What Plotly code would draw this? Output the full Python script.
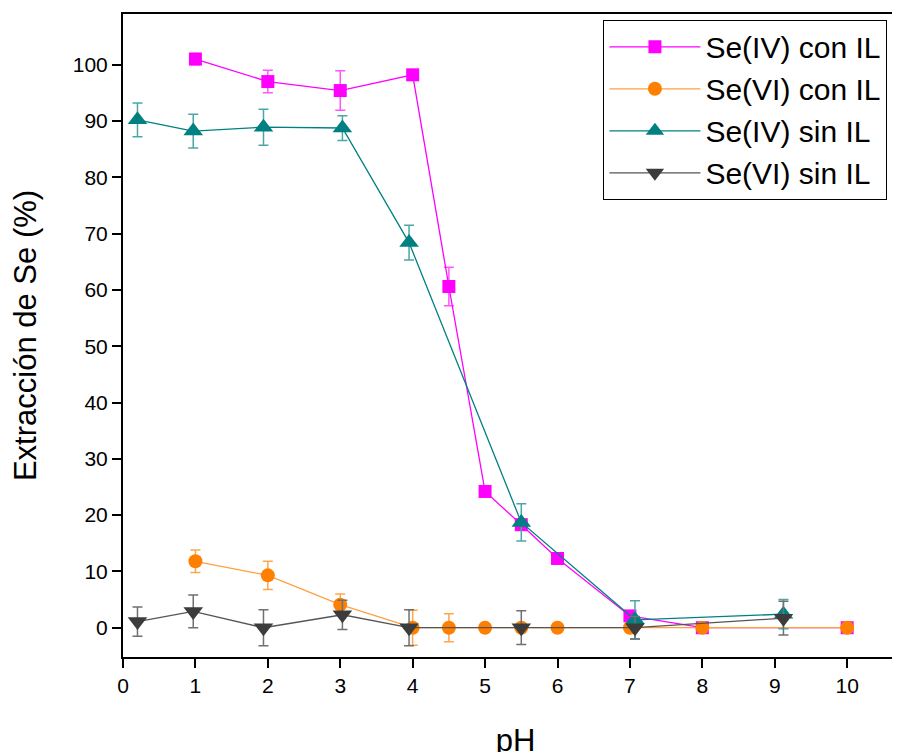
import plotly.graph_objects as go

# pH values
ph_con = [1, 2, 3, 4, 4.5, 5, 5.5, 6, 7, 8, 10]
ph_sin = [0.2, 0.97, 1.94, 3.03, 3.95, 5.5, 7.07, 9.12]

# Series values (%)
se4_con = [101.0, 97.0, 95.4, 98.2, 60.6, 24.2, 18.3, 12.3, 2.1, 0.0, 0.0]
se4_con_err = [1.0, 2.0, 3.5, 0.0, 3.4, 0.0, 0.0, 0.0, 0.0, 0.0, 0.0]
se6_con = [11.8, 9.3, 4.1, 0.0, 0.0, 0.0, 0.0, 0.0, 0.0, 0.0, 0.0]
se6_con_err = [2.0, 2.5, 1.9, 3.1, 2.5, 0.0, 0.0, 0.0, 0.0, 0.0, 0.0]
se4_sin = [90.2, 88.2, 88.9, 88.75, 68.4, 18.7, 1.4, 2.4]
se4_sin_err = [3.0, 3.0, 3.2, 2.2, 3.1, 3.3, 3.4, 2.6]
se6_sin = [1.1, 2.9, 0.0, 2.3, 0.0, 0.0, 0.0, 1.7]
se6_sin_err = [2.6, 2.9, 3.2, 2.6, 3.2, 3.0, 2.0, 3.0]

names = ["Se(IV) con IL", "Se(VI) con IL", "Se(IV) sin IL", "Se(VI) sin IL"]
x_ticks = [0, 1, 2, 3, 4, 5, 6, 7, 8, 9, 10]
y_ticks = [0, 10, 20, 30, 40, 50, 60, 70, 80, 90, 100]

FONT = "Liberation Sans, Arial, sans-serif"

series = [
    (ph_con, se4_con, se4_con_err, names[0], "#FF00FF", "#FF55FF", "#FF00FF", "square", 13),
    (ph_con, se6_con, se6_con_err, names[1], "#FF8000", "#FFA64D", "#FFA040", "circle", 14),
    (ph_sin, se4_sin, se4_sin_err, names[2], "#008080", "#4DA6A6", "#008080", "triangle-up", 17),
    (ph_sin, se6_sin, se6_sin_err, names[3], "#3C3C3C", "#707070", "#555555", "triangle-down", 17),
]

fig = go.Figure()
for xs, ys, es, nm, mc, ec, lc, sym, sz in series:
    fig.add_trace(go.Scatter(
        x=xs, y=ys, name=nm, mode="lines+markers",
        line=dict(color=lc, width=1.3),
        marker=dict(symbol=sym, size=sz, color=mc, line=dict(width=0)),
        error_y=dict(type="data", array=es, visible=True, color=ec, thickness=1.5, width=5),
    ))

fig.update_layout(
    width=900, height=752,
    margin=dict(l=115, r=0, t=6, b=103),
    paper_bgcolor="white", plot_bgcolor="white",
    font=dict(family=FONT, color="black", size=21),
    showlegend=True,
    legend=dict(
        x=0.612, y=0.991, xanchor="left", yanchor="top",
        bgcolor="white", bordercolor="black", borderwidth=1,
        font=dict(family=FONT, size=30, color="black"),
        tracegroupgap=0, itemwidth=91,
    ),
    xaxis=dict(
        range=[0, 10.84], tickvals=x_ticks, ticktext=[str(v) for v in x_ticks],
        showgrid=False, zeroline=False,
        showline=True, linecolor="black", linewidth=2, mirror=True,
        ticks="outside", ticklen=9, tickwidth=2, tickcolor="black",
        tickfont=dict(size=21),
        title=dict(text="pH", font=dict(size=31), standoff=33),
    ),
    yaxis=dict(
        range=[-5.2, 109], tickvals=y_ticks, ticktext=[str(v) for v in y_ticks],
        showgrid=False, zeroline=False,
        showline=True, linecolor="black", linewidth=2, mirror=False,
        ticks="outside", ticklen=9, tickwidth=2, tickcolor="black",
        tickfont=dict(size=21),
        title=dict(text="Extracción de Se (%)", font=dict(size=31), standoff=27),
    ),
)

fig.write_html("out.html")
